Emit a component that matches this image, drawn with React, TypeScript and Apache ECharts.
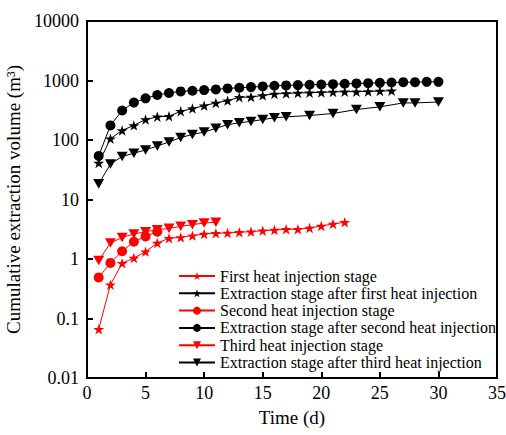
import React, { useEffect, useRef } from "react";
import * as echarts from "echarts";

const seriesNames = [
  "First heat injection stage",
  "Extraction stage after first heat injection",
  "Second heat injection stage",
  "Extraction stage after second heat injection",
  "Third heat injection stage",
  "Extraction stage after third heat injection",
];

const firstHeatDays = [1, 2, 3, 4, 5, 6, 7, 8, 9, 10, 11, 12, 13, 14, 15, 16, 17, 18, 19, 20, 21, 22];
const firstHeatValues = [0.066, 0.37, 0.85, 1.04, 1.33, 1.86, 2.23, 2.31, 2.47, 2.63, 2.7, 2.74, 2.81, 2.88, 2.99, 3.07, 3.16, 3.16, 3.32, 3.59, 3.87, 4.14];

const firstExtDays = [1, 2, 3, 4, 5, 6, 7, 8, 9, 10, 11, 12, 13, 14, 15, 16, 17, 18, 19, 20, 21, 22, 23, 24, 25, 26];
const firstExtValues = [41, 105, 145, 176, 221, 245, 251, 304, 337, 378, 420, 459, 521, 526, 562, 593, 607, 617, 624, 631, 641, 649, 649, 656, 664, 673];

const secondHeatDays = [1, 2, 3, 4, 5, 6];
const secondHeatValues = [0.49, 0.86, 1.35, 1.95, 2.4, 2.88];

const secondExtDays = [1, 2, 3, 4, 5, 6, 7, 8, 9, 10, 11, 12, 13, 14, 15, 16, 17, 18, 19, 20, 21, 22, 23, 24, 25, 26, 27, 28, 29, 30];
const secondExtValues = [54, 176, 313, 425, 501, 571, 617, 656, 673, 691, 708, 736, 756, 776, 795, 816, 826, 837, 848, 858, 869, 881, 892, 903, 914, 926, 937, 937, 950, 950];

const thirdHeatDays = [1, 2, 3, 4, 5, 6, 7, 8, 9, 10, 11];
const thirdHeatValues = [0.94, 1.86, 2.3, 2.63, 2.88, 3.1, 3.27, 3.54, 3.77, 4.03, 4.14];

const thirdExtDays = [1, 2, 3, 4, 5, 6, 7, 8, 9, 10, 11, 12, 13, 14, 15, 16, 17, 19, 21, 23, 25, 27, 28, 30];
const thirdExtValues = [18.3, 39.4, 52.8, 60, 68, 79.4, 92.6, 110, 124, 136, 157, 181, 195, 205, 221, 236, 245, 258, 279, 325, 361, 420, 420, 435];

const yTickLabels = ["0.01", "0.1", "1", "10", "100", "1000", "10000"];

const STAR = "path://M50 0 L61.23 34.55 L97.55 34.55 L68.16 55.9 L79.39 90.45 L50 69.1 L20.61 90.45 L31.84 55.9 L2.45 34.55 L38.77 34.55 Z";
const TRI_DOWN = "path://M0 0 L10 0 L5 8.66 Z";
const FONT = "Liberation Serif";

function pairs(xs: number[], ys: number[]) {
  return xs.map((x, i) => [x, ys[i]]);
}

export default function App() {
  const ref = useRef<HTMLDivElement>(null);
  useEffect(() => {
    if (!ref.current) return;
    const chart = echarts.init(ref.current, undefined, { renderer: "svg" });
    const mk = (name: string, xs: number[], ys: number[], color: string, symbol: string, size: number) => ({
      name,
      type: "line",
      data: pairs(xs, ys),
      symbol,
      symbolSize: size,
      symbolKeepAspect: true,
      itemStyle: { color },
      lineStyle: { color, width: 1 },
    });
    chart.setOption({
      animation: false,
      backgroundColor: "#fff",
      textStyle: { fontFamily: FONT },
      grid: {
        left: 87,
        right: 9,
        top: 21,
        bottom: 57,
        show: true,
        borderColor: "#000",
        borderWidth: 2,
        containLabel: false,
        outerBoundsMode: "none",
      },
      legend: {
        orient: "vertical",
        left: 173,
        top: 263,
        itemWidth: 36,
        itemHeight: 10,
        itemGap: 1.3,
        textStyle: { fontFamily: FONT, fontSize: 16, color: "#000" },
        data: seriesNames,
      },
      xAxis: {
        type: "value",
        min: 0,
        max: 35,
        interval: 5,
        name: "Time (d)",
        nameLocation: "middle",
        nameGap: 30,
        nameTextStyle: { fontFamily: FONT, fontSize: 19, color: "#000" },
        axisLine: { show: true, lineStyle: { color: "#000", width: 2 } },
        axisTick: { inside: true, length: 6, lineStyle: { color: "#000", width: 2 } },
        axisLabel: { fontFamily: FONT, fontSize: 18, color: "#000", margin: 6 },
        splitLine: { show: false },
      },
      yAxis: {
        type: "log",
        logBase: 10,
        min: 0.01,
        max: 10000,
        splitNumber: 6,
        name: "Cumulative extraction volume (m³)",
        nameLocation: "middle",
        nameGap: 61,
        nameTextStyle: { fontFamily: FONT, fontSize: 19, color: "#000" },
        axisLine: { show: true, lineStyle: { color: "#000", width: 2 } },
        axisTick: { inside: true, length: 6, lineStyle: { color: "#000", width: 2 } },
        axisLabel: {
          fontFamily: FONT,
          fontSize: 18,
          color: "#000",
          margin: 8,
          formatter: (v: number) => {
            const e = Math.round(Math.log10(v));
            return yTickLabels[e + 2] ?? String(v);
          },
        },
        splitLine: { show: false },
      },
      series: [
        mk(seriesNames[0], firstHeatDays, firstHeatValues, "#ff0000", STAR, 11),
        mk(seriesNames[1], firstExtDays, firstExtValues, "#000000", STAR, 11),
        mk(seriesNames[2], secondHeatDays, secondHeatValues, "#ff0000", "circle", 10),
        mk(seriesNames[3], secondExtDays, secondExtValues, "#000000", "circle", 10),
        mk(seriesNames[4], thirdHeatDays, thirdHeatValues, "#ff0000", TRI_DOWN, 11),
        mk(seriesNames[5], thirdExtDays, thirdExtValues, "#000000", TRI_DOWN, 11),
      ],
    });
    return () => chart.dispose();
  }, []);
  return (
    <div
      ref={ref}
      style={{ position: "fixed", left: 0, top: 0, width: 506, height: 435 }}
    />
  );
}
